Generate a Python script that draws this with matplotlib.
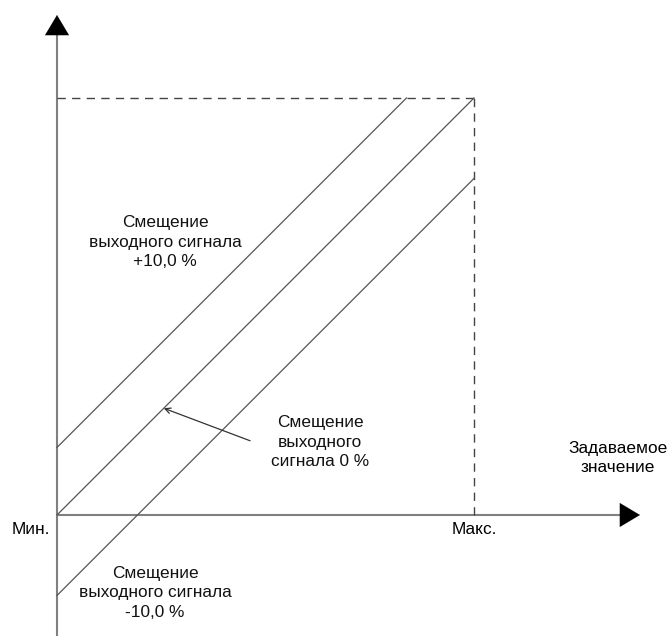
import matplotlib.pyplot as plt

plt.rcParams['font.family'] = ['Liberation Sans', 'DejaVu Sans']

# normalized set-value range: Мин. = 0, Макс. = 1
x_range = [0.0, 1.0]
offsets = [0.162, 0.0, -0.193]   # +10 %, 0 %, -10 % offset lines (as drawn)
line_labels = ['Смещение\nвыходного сигнала\n+10,0 %',
               'Смещение\nвыходного\nсигнала 0 %',
               'Смещение\nвыходного сигнала\n-10,0 %']
label_pos = [(0.259, 0.654), (0.631, 0.175), (0.235, -0.187)]
x_ticks = ['Мин.', 'Макс.']
x_title = 'Задаваемое\nзначение'

fig = plt.figure(figsize=(6.71, 6.37), dpi=100)
ax = fig.add_axes([0, 0, 1, 1])
ax.set_xlim(-0.1367, 1.4724)
ax.set_ylim(-0.2926, 1.235)
ax.axis('off')

axis_col = '#808080'
line_col = '#555555'
fs = 12.4

# axes
ax.plot([0, 0], [-0.29, 1.16], color=axis_col, lw=1.5, solid_capstyle='butt')
ax.plot([0, 1.36], [0, 0], color=axis_col, lw=1.5, solid_capstyle='butt')
head = dict(arrowstyle='-|>,head_length=1.44,head_width=0.86', color='black',
            mutation_scale=10, shrinkA=0, shrinkB=0, lw=0.1)
ax.annotate('', xy=(0, 1.199), xytext=(0, 1.15), arrowprops=head)
ax.annotate('', xy=(1.398, 0), xytext=(1.35, 0), arrowprops=head)

# dashed max box
ax.plot([0, x_range[1]], [1, 1], color='#444444', lw=1, dashes=(6, 4.5))
ax.plot([x_range[1], x_range[1]], [0, 1], color='#444444', lw=1, dashes=(6, 4.5))

# offset lines, clipped to the 0..1 output range at the top
for off in offsets:
    x0 = x_range[0]
    x1 = min(x_range[1], 1 - off)
    ax.plot([x0, x1], [x0 + off, x1 + off], color=line_col, lw=0.9)

for txt, (tx, ty) in zip(line_labels, label_pos):
    ax.text(tx, ty, txt, ha='center', va='center', fontsize=fs,
            linespacing=1.38, color='#111111')

# pointer to the 0 % line
ax.annotate('', xy=(0.256, 0.256), xytext=(0.463, 0.178),
            arrowprops=dict(arrowstyle='->', color='#333333', lw=0.9,
                            shrinkA=0, shrinkB=0))

ax.text(-0.016, -0.036, x_ticks[0], ha='right', va='center', fontsize=fs)
ax.text(1.0, -0.036, x_ticks[1], ha='center', va='center', fontsize=fs)
ax.text(1.345, 0.137, x_title, ha='center', va='center', fontsize=fs,
        linespacing=1.38)

fig.savefig('out.png', dpi=100)
